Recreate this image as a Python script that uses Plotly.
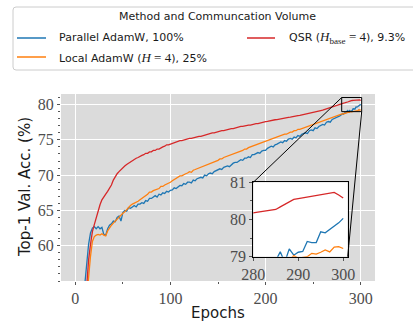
import plotly.graph_objects as go

# ---------------- data ----------------
epochs = list(range(0, 280, 2)) + list(range(280, 301))

parallel_adamw = [
    0.1, 12.0, 26.5, 38.5, 48.0, 54.5, 57.6, 60.2, 61.8, 62.5,
    62.7, 62.4, 62.7, 62.4, 62.6, 61.6, 61.5, 62.4, 62.9, 63.1,
    63.5, 63.4, 64.0, 64.2, 63.5, 64.7, 65.0, 64.9, 65.4, 65.3,
    65.5, 65.7, 65.5, 65.9, 65.9, 66.1, 66.0, 66.4, 66.3, 66.7,
    66.7, 66.9, 67.1, 66.9, 67.3, 67.2, 67.5, 67.4, 67.7, 67.6,
    67.85, 67.9, 68.2, 68.1, 68.4, 68.55, 68.5, 68.8, 68.7, 69.0,
    69.0, 68.9, 69.3, 69.2, 69.5, 69.6, 69.7, 69.6, 70.0, 69.9,
    70.2, 70.3, 70.2, 70.5, 70.6, 70.7, 70.9, 70.8, 71.1, 71.2,
    71.3, 71.2, 71.5, 71.7, 71.8, 71.8, 72.0, 72.2, 72.1, 72.4,
    72.4, 72.6, 72.5, 72.9, 72.9, 73.1, 73.2, 73.1, 73.4, 73.5,
    73.5, 73.8, 73.9, 74.1, 74.0, 74.3, 74.4, 74.5, 74.7, 74.6,
    74.9, 74.8, 75.1, 75.2, 75.1, 75.4, 75.3, 75.6, 75.5, 75.8,
    75.9, 76.0, 75.9, 76.3, 76.4, 76.3, 76.7, 76.6, 76.9, 77.0,
    77.2, 77.1, 77.5, 77.6, 77.5, 77.9, 78.0, 78.1, 78.3, 78.4,
    # 280 .. 300, every epoch
    78.6, 78.7, 78.65, 78.85, 78.8, 78.9, 79.13, 78.85, 79.21, 79.04,
    79.12, 79.14, 79.41, 79.38, 79.38, 79.67, 79.64, 79.73, 79.82, 79.91,
    80.03,
]

local_adamw = [
    0.1, 10.0, 22.0, 33.0, 42.5, 48.5, 52.5, 55.8, 58.5, 60.6,
    61.3, 61.5, 61.6, 61.5, 61.7, 61.5, 61.4, 62.1, 62.6, 62.9,
    63.2, 63.5, 63.7, 64.1, 64.3, 64.6, 64.8, 65.1, 65.5, 65.7,
    65.9, 66.0, 66.2, 66.3, 66.5, 66.7, 66.8, 67.1, 67.3, 67.6,
    67.6, 67.8, 67.9, 68.1, 68.1, 68.4, 68.4, 68.6, 68.7, 68.9,
    69.0, 69.2, 69.4, 69.5, 69.8, 69.9, 69.9, 70.1, 70.2, 70.3,
    70.5, 70.4, 70.7, 70.8, 70.9, 71.0, 71.1, 71.3, 71.3, 71.5,
    71.6, 71.6, 71.8, 71.9, 72.0, 72.1, 72.3, 72.3, 72.5, 72.6,
    72.7, 72.8, 72.8, 73.0, 73.05, 73.2, 73.3, 73.4, 73.5, 73.7,
    73.7, 73.9, 74.0, 74.1, 74.2, 74.3, 74.4, 74.4, 74.6, 74.7,
    74.8, 74.8, 75.0, 75.1, 75.2, 75.3, 75.4, 75.5, 75.6, 75.6,
    75.8, 75.8, 76.0, 76.1, 76.1, 76.3, 76.3, 76.5, 76.5, 76.6,
    76.6, 76.8, 76.8, 77.0, 77.0, 77.2, 77.2, 77.3, 77.4, 77.5,
    77.6, 77.7, 77.8, 77.9, 78.0, 78.1, 78.2, 78.3, 78.4, 78.5,
    # 280 .. 300, every epoch
    78.62, 78.7, 78.66, 78.78, 78.75, 78.85, 78.82, 78.93, 78.9, 79.03,
    78.96, 78.98, 79.0, 79.09, 79.07, 79.12, 79.18, 79.13, 79.26, 79.27,
    79.22,
]

qsr = [
    0.1, 14.0, 27.0, 37.0, 45.0, 50.5, 54.5, 58.0, 60.2, 62.0,
    63.0, 64.0, 65.0, 65.8, 66.5, 67.0, 67.3, 67.7, 68.1, 68.6,
    69.3, 69.8, 70.2, 70.5, 70.8, 71.0, 71.3, 71.5, 71.7, 71.9,
    72.1, 72.2, 72.4, 72.5, 72.7, 72.8, 72.9, 73.1, 73.1, 73.3,
    73.3, 73.5, 73.5, 73.7, 73.7, 73.9, 74.0, 74.1, 74.3, 74.3,
    74.4, 74.6, 74.6, 74.8, 74.8, 74.9, 74.9, 75.0, 75.1, 75.1,
    75.2, 75.2, 75.3, 75.3, 75.4, 75.5, 75.5, 75.6, 75.6, 75.8,
    75.8, 75.9, 76.0, 76.0, 76.1, 76.1, 76.2, 76.3, 76.3, 76.4,
    76.4, 76.5, 76.6, 76.6, 76.7, 76.7, 76.8, 76.9, 76.9, 77.0,
    77.0, 77.1, 77.1, 77.2, 77.3, 77.3, 77.3, 77.4, 77.5, 77.5,
    77.6, 77.62, 77.7, 77.72, 77.8, 77.85, 77.88, 77.95, 78.0, 78.02,
    78.1, 78.12, 78.2, 78.22, 78.3, 78.35, 78.36, 78.45, 78.48, 78.55,
    78.6, 78.65, 78.7, 78.78, 78.8, 78.9, 78.95, 79.0, 79.1, 79.15,
    79.2, 79.3, 79.35, 79.45, 79.5, 79.6, 79.7, 79.8, 79.95, 80.05,
    # 280 .. 300, every epoch
    80.18, 80.2, 80.22, 80.23, 80.25, 80.27, 80.34, 80.4, 80.47, 80.54,
    80.56, 80.58, 80.6, 80.62, 80.65, 80.67, 80.69, 80.71, 80.73, 80.66,
    80.58,
]

series_names = ["Parallel AdamW, 100%", "Local AdamW (H = 4), 25%", "QSR (H_base = 4), 9.3%"]
MATH = '<span style="font-family:Liberation Serif;font-size:13px">'
legend_labels = [
    "Parallel AdamW, 100%",
    'Local AdamW (' + MATH + '<i>H</i> = 4</span>), 25%',
    'QSR (' + MATH + '<i>H</i><sub>base</sub> = 4</span>), 9.3%',
]
legend_title = "Method and Communcation Volume"
colors = ["#1f77b4", "#ff7f0e", "#d62728"]

x_ticks = [0, 100, 200, 300]
x_minor = [50, 150, 250]
y_ticks = [60, 65, 70, 75, 80]
x_range = [-15, 315]
y_range = [55, 81.5]

inset_x_range = [280, 301]
inset_y_range = [79, 81]
inset_x_ticks = [280, 290, 300]
inset_y_ticks = [79, 80, 81]

# ---------------- geometry ----------------
W, H = 413, 322
ML, MR, MT, MB = 61, 38, 94, 41
PW, PH = W - ML - MR, H - MT - MB


def px(xp):
    return (xp - ML) / PW


def py(yp):
    return (H - MB - yp) / PH


inset_dom_x = [px(253.3), px(347.7)]
inset_dom_y = [py(256.7), py(182.3)]


def main_to_paper(xv, yv):
    return ((xv - x_range[0]) / (x_range[1] - x_range[0]),
            (yv - y_range[0]) / (y_range[1] - y_range[0]))


tick_font = dict(family="Liberation Serif, DejaVu Serif, serif", size=16, color="#4D4D4D")
label_font = dict(family="DejaVu Sans, sans-serif", size=15, color="#1a1a1a")
leg_font = dict(family="DejaVu Sans, sans-serif", size=11, color="#1a1a1a")

fig = go.Figure()
series = [parallel_adamw, local_adamw, qsr]
for name, ys, c in zip(series_names, series, colors):
    fig.add_trace(go.Scatter(x=epochs, y=ys, mode="lines", name=name,
                             line=dict(color=c, width=1.3), showlegend=False,
                             xaxis="x", yaxis="y"))
for name, ys, c in zip(series_names, series, colors):
    fig.add_trace(go.Scatter(x=epochs, y=ys, mode="lines", name=name,
                             line=dict(color=c, width=1.3), showlegend=False,
                             xaxis="x2", yaxis="y2"))

shapes = []
# inset white background
shapes.append(dict(type="rect", xref="x2", yref="y2",
                   x0=inset_x_range[0], x1=inset_x_range[1],
                   y0=inset_y_range[0], y1=inset_y_range[1],
                   fillcolor="white", line=dict(width=0), layer="below"))
# zoom box on main axes
shapes.append(dict(type="rect", xref="x", yref="y",
                   x0=inset_x_range[0], x1=inset_x_range[1],
                   y0=inset_y_range[0], y1=inset_y_range[1],
                   line=dict(color="black", width=1), layer="above"))
# connectors
a = main_to_paper(inset_x_range[0], inset_y_range[1])
shapes.append(dict(type="line", xref="paper", yref="paper",
                   x0=a[0], y0=a[1], x1=inset_dom_x[0], y1=inset_dom_y[1],
                   line=dict(color="black", width=1), layer="above"))
b = main_to_paper(inset_x_range[1], inset_y_range[0])
shapes.append(dict(type="line", xref="paper", yref="paper",
                   x0=b[0], y0=b[1], x1=inset_dom_x[1], y1=inset_dom_y[0],
                   line=dict(color="black", width=1), layer="above"))

# legend box (rounded corners)
L, R, T, B, r = 13, 430, 7, 70, 3
path = (f"M {px(L + r)},{py(T)} L {px(R)},{py(T)} L {px(R)},{py(B)} "
        f"L {px(L + r)},{py(B)} Q {px(L)},{py(B)} {px(L)},{py(B - r)} "
        f"L {px(L)},{py(T + r)} Q {px(L)},{py(T)} {px(L + r)},{py(T)} Z")
shapes.append(dict(type="path", xref="paper", yref="paper", path=path,
                   fillcolor="white", line=dict(color="#CCCCCC", width=1), layer="above"))

annotations = []
legend_pos = [(17, 46, 57, 38), (17, 46, 57, 57), (247, 275, 287, 38)]
for (lx0, lx1, tx, ty), lab, c in zip(legend_pos, legend_labels, colors):
    shapes.append(dict(type="line", xref="paper", yref="paper",
                       x0=px(lx0), x1=px(lx1), y0=py(ty), y1=py(ty),
                       line=dict(color=c, width=1.5), layer="above"))
    annotations.append(dict(x=px(tx), y=py(ty), xref="paper", yref="paper",
                            text=lab, showarrow=False, xanchor="left", yanchor="middle",
                            font=leg_font))
annotations.append(dict(x=px(217.5), y=py(17), xref="paper", yref="paper",
                        text=legend_title, showarrow=False, xanchor="center",
                        yanchor="middle", font=leg_font))
annotations.append(dict(x=px(218), y=py(313), xref="paper", yref="paper",
                        text="Epochs", showarrow=False, xanchor="center",
                        yanchor="middle", font=label_font))
annotations.append(dict(x=px(25), y=py(187), xref="paper", yref="paper",
                        text="Top-1 Val. Acc. (%)", showarrow=False, xanchor="center",
                        yanchor="middle", textangle=-90, font=label_font))

fig.update_layout(
    width=W, height=H,
    margin=dict(l=ML, r=MR, t=MT, b=MB, pad=0),
    paper_bgcolor="white", plot_bgcolor="#DBDBDB",
    showlegend=False,
    shapes=shapes, annotations=annotations,
    xaxis=dict(domain=[0, 1], range=x_range, tickvals=x_ticks,
               showgrid=True, gridcolor="white", gridwidth=1.3, zeroline=False,
               showline=False, ticks="outside", ticklen=3, tickcolor="#555555",
               tickfont=tick_font,
               minor=dict(tickvals=x_minor, ticks="outside", ticklen=2,
                          tickcolor="#555555", showgrid=False)),
    yaxis=dict(domain=[0, 1], range=y_range, tickvals=y_ticks,
               showgrid=True, gridcolor="white", gridwidth=1.3, zeroline=False,
               showline=False, ticks="outside", ticklen=3, tickcolor="#555555",
               tickfont=tick_font,
               minor=dict(dtick=1, ticks="outside", ticklen=2,
                          tickcolor="#555555", showgrid=False)),
    xaxis2=dict(domain=inset_dom_x, anchor="y2", range=inset_x_range,
                tickvals=inset_x_ticks, showgrid=False, zeroline=False,
                showline=True, mirror=True, linecolor="black", linewidth=1,
                ticks="outside", ticklen=3, tickcolor="#555555", tickfont=tick_font),
    yaxis2=dict(domain=inset_dom_y, anchor="x2", range=inset_y_range,
                tickvals=inset_y_ticks, showgrid=False, zeroline=False,
                showline=True, mirror=True, linecolor="black", linewidth=1,
                ticks="outside", ticklen=3, tickcolor="#555555", tickfont=tick_font,
                minor=dict(dtick=0.5, ticks="outside", ticklen=2,
                           tickcolor="#555555", showgrid=False)),
)

fig.write_html("out.html",
               config={"displayModeBar": False},
               post_script="document.body.style.margin='0px';document.body.style.overflow='hidden';")
